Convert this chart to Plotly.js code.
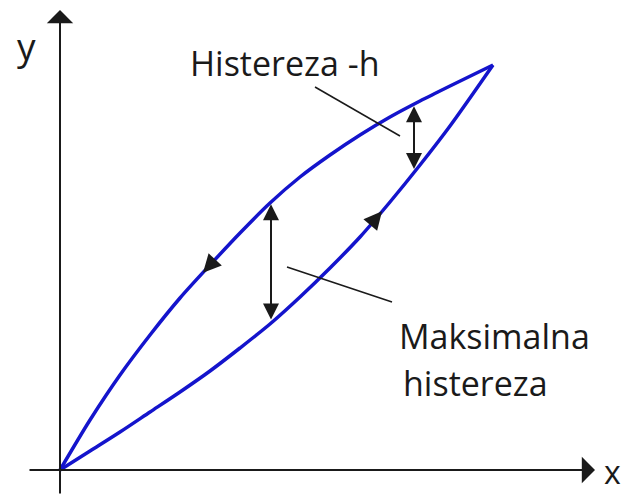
<!DOCTYPE html>
<html>
<head>
<meta charset="utf-8">
<script src="https://cdn.plot.ly/plotly-3.0.1.min.js"></script>
<style>
  html, body { margin: 0; padding: 0; background: #fff; }
  #chart { width: 630px; height: 495px; }
</style>
</head>
<body>
<div id="chart"></div>
<script>
// loading branch (x rising), origin at the axes crossing
var loadX = [0, 30, 60, 90, 120, 150, 180, 210, 240, 270, 300, 330, 360, 390, 433];
var loadY = [0, 19, 38, 58, 78, 99, 122, 146, 173, 202, 233, 268, 305, 344, 405];
// unloading branch (x falling back to 0)
var unloadX = [0, 30, 60, 90, 120, 150, 180, 210, 240, 270, 300, 330, 360, 390, 433];
var unloadY = [0, 50, 95, 135, 172, 205, 237, 267, 293, 315, 335, 353, 369, 384, 405];

// where the gap between branches is marked
var gapX = [211, 354];
// where the direction arrows sit
var flowUnloadX = 143;
var flowLoadX = 322;

var labelX = 'x';
var labelY = 'y';
var labelH = 'Histereza -h';
var labelHmax1 = 'Maksimalna';
var labelHmax2 = 'histereza';

var blue = '#1414cc';
var ink = '#1a1a1a';
var font = 'Open Sans, sans-serif';

function interp(xs, ys, x) {
  for (var i = 1; i < xs.length; i++) {
    if (x <= xs[i]) {
      var t = (x - xs[i - 1]) / (xs[i] - xs[i - 1]);
      return ys[i - 1] + t * (ys[i] - ys[i - 1]);
    }
  }
  return ys[ys.length - 1];
}

var traces = [
  { x: loadX, y: loadY, mode: 'lines', line: { color: blue, width: 3.5, shape: 'spline', smoothing: 0.8 }, hoverinfo: 'skip' },
  { x: unloadX, y: unloadY, mode: 'lines', line: { color: blue, width: 3.5, shape: 'spline', smoothing: 0.8 }, hoverinfo: 'skip' }
];

var ann = [];

// axes with arrow heads
ann.push({ x: 0, y: 460, ax: 0, ay: -25, xref: 'x', yref: 'y', axref: 'x', ayref: 'y',
  text: '', showarrow: true, arrowhead: 1, arrowsize: 2.2, arrowwidth: 2, arrowcolor: ink });
ann.push({ x: 535, y: 0, ax: -32, ay: 0, xref: 'x', yref: 'y', axref: 'x', ayref: 'y',
  text: '', showarrow: true, arrowhead: 1, arrowsize: 2.2, arrowwidth: 2, arrowcolor: ink });

// gap markers, double headed
gapX.forEach(function (gx) {
  ann.push({ x: gx, y: interp(unloadX, unloadY, gx) - 2, ax: gx, ay: interp(loadX, loadY, gx) + 2,
    xref: 'x', yref: 'y', axref: 'x', ayref: 'y', text: '', showarrow: true,
    arrowside: 'end+start', arrowhead: 2, startarrowhead: 2, arrowsize: 1.6, startarrowsize: 1.6,
    arrowwidth: 2, arrowcolor: ink });
});

// direction of travel on each branch
ann.push({ x: flowUnloadX, y: interp(unloadX, unloadY, flowUnloadX),
  ax: flowUnloadX + 12, ay: interp(unloadX, unloadY, flowUnloadX + 12),
  xref: 'x', yref: 'y', axref: 'x', ayref: 'y', text: '', showarrow: true,
  arrowhead: 2, arrowsize: 1.8, arrowwidth: 2, arrowcolor: ink });
ann.push({ x: flowLoadX, y: interp(loadX, loadY, flowLoadX),
  ax: flowLoadX - 12, ay: interp(loadX, loadY, flowLoadX - 12),
  xref: 'x', yref: 'y', axref: 'x', ayref: 'y', text: '', showarrow: true,
  arrowhead: 2, arrowsize: 1.8, arrowwidth: 2, arrowcolor: ink });

// texts
ann.push({ x: 128, y: 382, xref: 'x', yref: 'y', text: labelH, showarrow: false,
  xanchor: 'left', yanchor: 'bottom', font: { family: font, size: 34, color: ink } });
ann.push({ x: 337, y: 109, xref: 'x', yref: 'y', text: labelHmax1, showarrow: false,
  xanchor: 'left', yanchor: 'bottom', font: { family: font, size: 34, color: ink } });
ann.push({ x: 341, y: 62, xref: 'x', yref: 'y', text: labelHmax2, showarrow: false,
  xanchor: 'left', yanchor: 'bottom', font: { family: font, size: 34, color: ink } });
ann.push({ x: -34, y: 425, xref: 'x', yref: 'y', text: labelY, showarrow: false,
  xanchor: 'center', yanchor: 'middle', font: { family: font, size: 37, color: ink } });
ann.push({ x: 552, y: -24, xref: 'x', yref: 'y', text: labelX, showarrow: false, borderpad: 0,
  xanchor: 'center', yanchor: 'bottom', font: { family: font, size: 32, color: ink } });

// leader lines from the texts
var shapes = [
  { type: 'line', xref: 'x', yref: 'y', x0: 255, y0: 383, x1: 340, y1: 334, line: { color: ink, width: 1.5 } },
  { type: 'line', xref: 'x', yref: 'y', x0: 227, y0: 203, x1: 332, y1: 168, line: { color: ink, width: 1.5 } }
];

var layout = {
  width: 630, height: 495,
  margin: { l: 0, r: 0, t: 0, b: 0 },
  paper_bgcolor: '#fff', plot_bgcolor: '#fff',
  showlegend: false,
  xaxis: { range: [-60, 570], visible: false, fixedrange: true },
  yaxis: { range: [-25, 470], visible: false, fixedrange: true },
  annotations: ann,
  shapes: shapes
};

Plotly.newPlot('chart', traces, layout, { displayModeBar: false, staticPlot: true });
</script>
</body>
</html>
